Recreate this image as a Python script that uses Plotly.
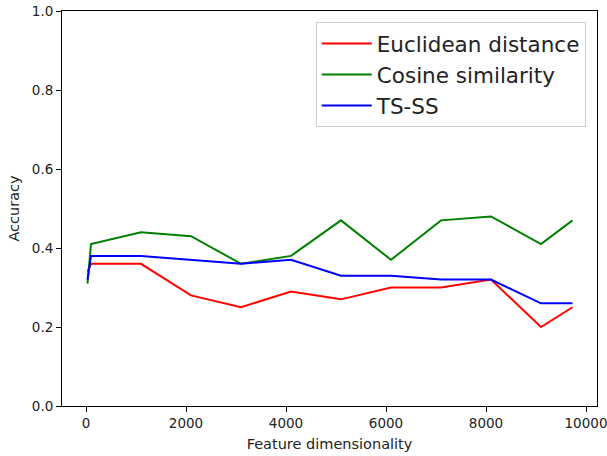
import plotly.graph_objects as go

dims = [30, 100, 1100, 2100, 3100, 4100, 5100, 6100, 7100, 8100, 9100, 9730]
euclidean = [0.34, 0.36, 0.36, 0.28, 0.25, 0.29, 0.27, 0.30, 0.30, 0.32, 0.20, 0.25]
cosine = [0.31, 0.41, 0.44, 0.43, 0.36, 0.38, 0.47, 0.37, 0.47, 0.48, 0.41, 0.47]
tsss = [0.32, 0.38, 0.38, 0.37, 0.36, 0.37, 0.33, 0.33, 0.32, 0.32, 0.26, 0.26]

x_ticks = [0, 2000, 4000, 6000, 8000, 10000]
y_ticks = [0.0, 0.2, 0.4, 0.6, 0.8, 1.0]

fig = go.Figure()
for name, vals, col in [("Euclidean distance", euclidean, "#ff0000"),
                        ("Cosine similarity", cosine, "#008000"),
                        ("TS-SS", tsss, "#0000ff")]:
    fig.add_trace(go.Scatter(x=dims, y=vals, mode="lines", name=name,
                             line=dict(color=col, width=2)))

axis_common = dict(showline=True, linecolor="black", linewidth=1, mirror=True,
                   ticks="outside", ticklen=5, tickcolor="black", showgrid=False,
                   zeroline=False, automargin=False, ticklabeloverflow="allow",
                   tickfont=dict(size=13.5, color="#222"))
fig.update_xaxes(range=[-480, 10220], tickvals=x_ticks,
                 ticktext=[str(t) for t in x_ticks],
                 title=dict(text="Feature dimensionality", font=dict(size=14.5, color="#222"), standoff=8),
                 **axis_common)
fig.update_yaxes(range=[0, 1], tickvals=y_ticks,
                 ticktext=[f"{t:.1f}" for t in y_ticks],
                 title=dict(text="Accuracy", font=dict(size=14.5, color="#222"), standoff=8),
                 **axis_common)

fig.update_layout(
    width=607, height=456,
    margin=dict(l=62, r=10, t=11, b=50),
    paper_bgcolor="white", plot_bgcolor="white",
    font=dict(family="DejaVu Sans", color="#222"),
    showlegend=True,
    legend=dict(x=0.979, y=0.972, xanchor="right", yanchor="top",
                bgcolor="rgba(255,255,255,0.8)", bordercolor="#cccccc", borderwidth=1,
                font=dict(size=21.5, color="#222"), tracegroupgap=0, itemwidth=50),
)

fig.write_html("out.html",
               config={"displayModeBar": False},
               post_script="document.body.style.margin='0';document.body.style.overflow='hidden';")
